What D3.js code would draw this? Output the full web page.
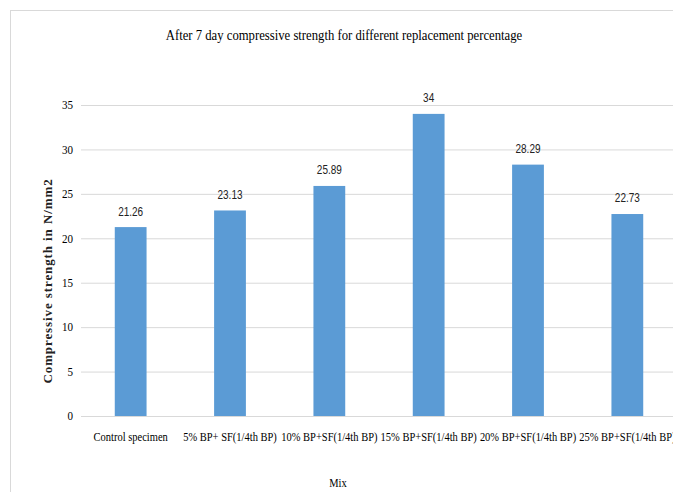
<!DOCTYPE html>
<html>
<head>
<meta charset="utf-8">
<script src="https://cdn.jsdelivr.net/npm/d3@7"></script>
<style>
  html, body { margin: 0; padding: 0; background: #fff; }
  svg { display: block; }
</style>
</head>
<body>
<svg id="chart" width="673" height="492"></svg>
<script>
// Mix designs and their 7-day compressive strength (N/mm2)
const categories = [
  "Control specimen",
  "5% BP+ SF(1/4th BP)",
  "10% BP+SF(1/4th BP)",
  "15% BP+SF(1/4th BP)",
  "20% BP+SF(1/4th BP)",
  "25% BP+SF(1/4th BP)"
];
const strengths = [21.26, 23.13, 25.89, 34, 28.29, 22.73];
const valueLabels = ["21.26", "23.13", "25.89", "34", "28.29", "22.73"];
const yTicks = [0, 5, 10, 15, 20, 25, 30, 35];

const chartTitle = "After 7 day compressive strength for different replacement percentage";
const xTitle = "Mix";
const yTitle = "Compressive strength in N/mm2";

const svg = d3.select("#chart");
const W = 673, H = 492;
const plot = { left: 81, right: 677, top: 105, bottom: 416 };
const serif = "'Liberation Serif', 'Times New Roman', serif";
const sans = "'Liberation Sans', Arial, sans-serif";

// Outer chart frame (extends beyond the visible page at right and bottom)
svg.append("rect")
  .attr("x", 10.5).attr("y", 10.5)
  .attr("width", W + 20).attr("height", H + 20)
  .attr("fill", "#fff").attr("stroke", "#d9d9d9").attr("stroke-width", 1);

const x = d3.scaleBand().domain(categories).range([plot.left, plot.right]).paddingInner(0.68).paddingOuter(0.34);
const y = d3.scaleLinear().domain([0, 35]).range([plot.bottom, plot.top]);

// Horizontal condensed text helper
function condensed(g, px, py, text, opts) {
  const grp = g.append("g").attr("transform", `translate(${px},${py}) scale(${opts.sx},1)`);
  return grp.append("text")
    .attr("text-anchor", opts.anchor || "middle")
    .attr("dominant-baseline", "central")
    .attr("font-family", opts.family)
    .attr("font-size", opts.size)
    .attr("fill", opts.fill || "#000")
    .text(text);
}

// Gridlines
const yAxis = d3.axisLeft(y).tickValues(yTicks).tickSize(-(plot.right - plot.left)).tickFormat("");
const gy = svg.append("g").attr("transform", `translate(${plot.left},0)`).call(yAxis);
gy.select(".domain").remove();
gy.selectAll(".tick line").attr("stroke", "#d9d9d9").attr("stroke-width", 1);

// Y tick labels
const labels = svg.append("g");
yTicks.forEach(t => condensed(labels, 73, y(t), String(t), { sx: 0.85, anchor: "end", family: serif, size: 13 }));

// Bars
svg.append("g").selectAll("rect")
  .data(strengths)
  .join("rect")
  .attr("x", (d, i) => x(categories[i]))
  .attr("width", x.bandwidth())
  .attr("y", d => y(d))
  .attr("height", d => y(0) - y(d))
  .attr("fill", "#5b9bd5");

// Value labels
strengths.forEach((v, i) => {
  condensed(labels, x(categories[i]) + x.bandwidth() / 2, y(v) - 16, valueLabels[i],
    { sx: 0.8, family: sans, size: 12.5, fill: "#222" });
});

// Category labels
categories.forEach(c => {
  condensed(labels, x(c) + x.bandwidth() / 2, 437, c, { sx: 0.84, family: serif, size: 12.5 });
});

// Titles
condensed(labels, 344, 35, chartTitle, { sx: 0.82, family: serif, size: 15.5 });
condensed(labels, 338, 483, xTitle, { sx: 0.84, family: serif, size: 12.5 });

svg.append("text")
  .attr("transform", `translate(47,281) rotate(-90)`)
  .attr("text-anchor", "middle")
  .attr("dominant-baseline", "central")
  .attr("font-family", serif)
  .attr("font-size", 13)
  .attr("font-weight", "bold")
  .attr("letter-spacing", "0.9px")
  .attr("fill", "#222")
  .text(yTitle);
</script>
</body>
</html>
